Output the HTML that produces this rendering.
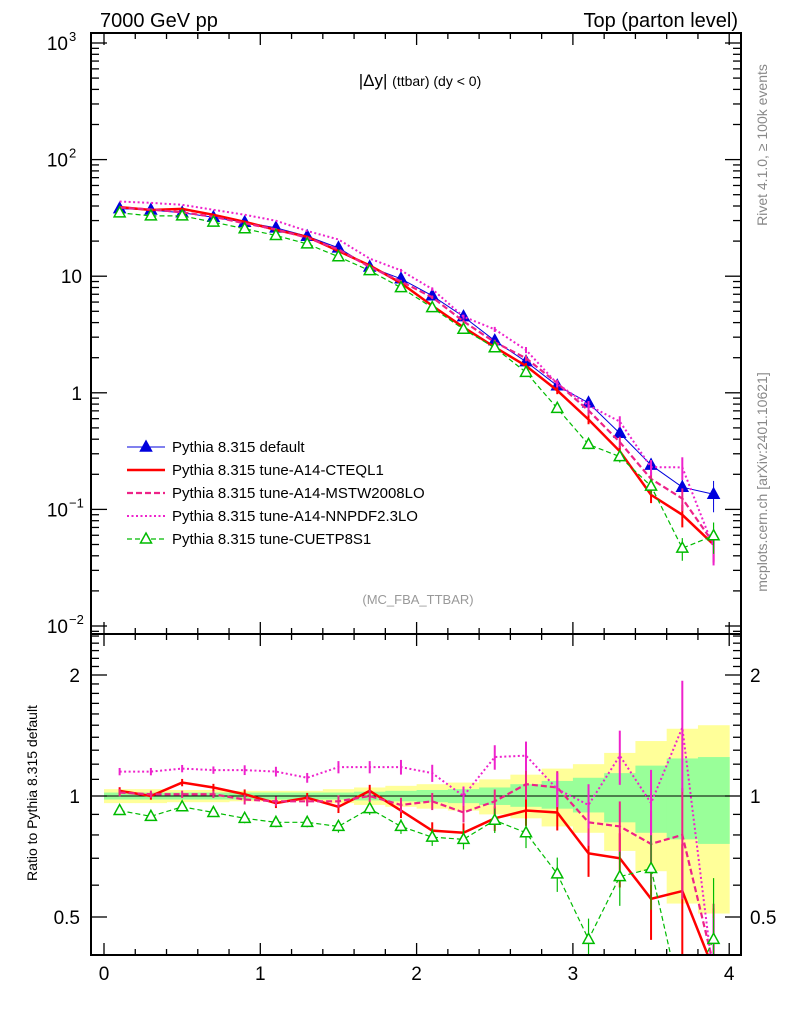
<!DOCTYPE html>
<html><head><meta charset="utf-8"><style>
body{margin:0;background:#fff;}
svg{display:block;font-family:"Liberation Sans",sans-serif;}
</style></head><body>
<svg id="c" width="786" height="1024" viewBox="0 0 786 1024" xmlns="http://www.w3.org/2000/svg">
<text x="100" y="27" font-size="20">7000 GeV pp</text>
<text x="738" y="27" font-size="20" text-anchor="end">Top (parton level)</text>
<text x="420" y="86" font-size="17" text-anchor="middle">|Δy| <tspan font-size="14">(ttbar) (dy &lt; 0)</tspan></text>
<text x="418" y="604" font-size="13" fill="#999" text-anchor="middle">(MC_FBA_TTBAR)</text>
<text transform="translate(767,145) rotate(-90)" font-size="14" fill="#888" text-anchor="middle">Rivet 4.1.0, ≥ 100k events</text>
<text transform="translate(767,482) rotate(-90)" font-size="14" fill="#888" text-anchor="middle">mcplots.cern.ch [arXiv:2401.10621]</text>
<text transform="translate(37,793) rotate(-90)" font-size="14" text-anchor="middle">Ratio to Pythia 8.315 default</text>
<g id="g"></g>
</svg>
<script>
const xs=[0.1,0.3,0.5,0.7,0.9,1.1,1.3,1.5,1.7,1.9,2.1,2.3,2.5,2.7,2.9,3.1,3.3,3.5,3.7,3.9];
const defaultVals=[38,37,35,32,29,26,22,17.5,12,9.5,6.8,4.5,2.8,1.85,1.15,0.82,0.45,0.24,0.155,0.135];
const ratioCTEQ=[1.03,1.0,1.08,1.05,1.01,0.96,0.99,0.94,1.03,0.92,0.82,0.81,0.88,0.92,0.91,0.72,0.70,0.555,0.58,0.37];
const ratioMSTW=[1.02,1.01,1.01,1.01,0.98,0.97,0.97,0.97,1.0,0.95,0.97,0.91,0.97,1.07,1.05,0.86,0.84,0.76,0.80,0.38];
const ratioNNPDF=[1.15,1.15,1.17,1.16,1.16,1.15,1.11,1.18,1.18,1.18,1.14,1.0,1.25,1.26,1.04,0.95,1.26,0.96,1.48,0.35];
const ratioCUET=[0.92,0.89,0.94,0.91,0.88,0.86,0.86,0.84,0.93,0.84,0.79,0.78,0.87,0.81,0.64,0.44,0.63,0.66,0.30,0.44];
const relErr=[0.015,0.015,0.015,0.015,0.02,0.02,0.02,0.025,0.025,0.03,0.035,0.04,0.05,0.06,0.07,0.09,0.11,0.15,0.22,0.3];
const yelHi=[1.04,1.04,1.035,1.035,1.03,1.03,1.03,1.04,1.05,1.06,1.07,1.08,1.10,1.13,1.17,1.2,1.28,1.37,1.47,1.50];
const yelLo=[0.96,0.96,0.965,0.965,0.97,0.97,0.97,0.96,0.95,0.94,0.93,0.92,0.90,0.88,0.84,0.81,0.73,0.65,0.54,0.51];
const grnHi=[1.02,1.02,1.02,1.02,1.02,1.02,1.02,1.02,1.025,1.03,1.035,1.04,1.05,1.07,1.09,1.11,1.14,1.19,1.24,1.25];
const grnLo=[0.98,0.98,0.98,0.98,0.98,0.98,0.98,0.98,0.975,0.97,0.965,0.96,0.95,0.94,0.93,0.91,0.86,0.81,0.78,0.76];
const L=91,R=741,T=33,MB=634,RB=955;
const X=v=>104+v*156.3;
const Y=v=>43+(3-Math.log10(v))*116.6;
const YR=v=>796-Math.log2(v)*121;
const NS="http://www.w3.org/2000/svg";
const g=document.getElementById('g');
function mk(t,a,p){const e=document.createElementNS(NS,t);for(const k in a)e.setAttribute(k,a[k]);(p||g).appendChild(e);return e;}
// clip paths
const defs=mk('defs',{});
const c1=mk('clipPath',{id:'cm'},defs);mk('rect',{x:L,y:T,width:R-L,height:MB-T},c1);
const c2=mk('clipPath',{id:'cr'},defs);mk('rect',{x:L,y:MB,width:R-L,height:RB-MB},c2);
// bands
const bands=mk('g',{'clip-path':'url(#cr)'});


xs.forEach((x,i)=>{
 const r=mk('rect',{x:X(x-0.1),width:156.3*0.2+0.5,y:YR(yelHi[i]),height:YR(yelLo[i])-YR(yelHi[i]),fill:'#ffff99'},bands);
 
 
});
xs.forEach((x,i)=>{
 const r=mk('rect',{x:X(x-0.1),width:156.3*0.2+0.5,y:YR(grnHi[i]),height:YR(grnLo[i])-YR(grnHi[i]),fill:'#99ff99'},bands);
 
 
});
mk('line',{x1:L,x2:R,y1:YR(1),y2:YR(1),stroke:'#000','stroke-width':1});
const series=[
 {n:'default',r:xs.map(()=>1),c:'#0000dd',w:1,d:'',m:'tri'},
 {n:'cteql1',r:ratioCTEQ,c:'#ff0000',w:2.5,d:'',m:''},
 {n:'mstw2008lo',r:ratioMSTW,c:'#ee2288',w:2.2,d:'6,3',m:''},
 {n:'nnpdf23lo',r:ratioNNPDF,c:'#ee22cc',w:2,d:'2,2.5',m:''},
 {n:'cuetp8s1',r:ratioCUET,c:'#00bb00',w:1.2,d:'5,3',m:'otri'}
];
function tri(p,x,y,s,filled){const e=mk('path',{d:`M${x},${y-6}L${x+5.5},${y+4}L${x-5.5},${y+4}Z`,fill:filled?s.c:'#fff',stroke:s.c,'stroke-width':1.5},p);}
series.forEach((s,si)=>{
 const gm=mk('g',{'clip-path':'url(#cm)'});
 
 
 const vals=xs.map((x,i)=>defaultVals[i]*s.r[i]);
 mk('polyline',{points:xs.map((x,i)=>X(x)+','+Y(vals[i])).join(' '),fill:'none',stroke:s.c,'stroke-width':s.w,'stroke-dasharray':s.d},gm);
 xs.forEach((x,i)=>{const e=relErr[i]*vals[i];if(Y(vals[i]-e)-Y(vals[i]+e)>3)mk('line',{x1:X(x),x2:X(x),y1:Y(vals[i]+e),y2:Y(Math.max(vals[i]-e,1e-3)),stroke:s.c,'stroke-width':Math.min(s.w,2)},gm);
  if(s.m)tri(gm,X(x),Y(vals[i]),s,s.m==='tri');});
 if(si===0)return;
 const gr=mk('g',{'clip-path':'url(#cr)'});
 
 
 mk('polyline',{points:xs.map((x,i)=>X(x)+','+YR(s.r[i])).join(' '),fill:'none',stroke:s.c,'stroke-width':s.w,'stroke-dasharray':s.d},gr);
 xs.forEach((x,i)=>{const e=relErr[i]*1.4*s.r[i];mk('line',{x1:X(x),x2:X(x),y1:YR(s.r[i]+e),y2:YR(Math.max(s.r[i]-e,0.2)),stroke:s.c,'stroke-width':Math.min(s.w,2)},gr);
  if(s.m)tri(gr,X(x),YR(s.r[i]),s,false);});
});
// frames
mk('rect',{x:L,y:T,width:R-L,height:MB-T,fill:'none',stroke:'#000','stroke-width':2});
mk('rect',{x:L,y:MB,width:R-L,height:RB-MB,fill:'none',stroke:'#000','stroke-width':2});
// x ticks
for(let k=0;k<=20;k++){const v=k*0.2,px=X(v),big=k%5===0,l=big?12:6;
 [[T,1],[MB,-1],[MB,1],[RB,-1]].forEach(([y,d])=>mk('line',{x1:px,x2:px,y1:y,y2:y+d*l,stroke:'#000','stroke-width':1.3}));
 if(big){const t=mk('text',{x:px,y:980,'font-size':19,'text-anchor':'middle'});t.textContent=v;}}
// main y ticks
for(let e=-3;e<=3;e++)for(let m=1;m<10;m++){const v=m*Math.pow(10,e),py=Y(v);if(py<T||py>MB)continue;const l=m===1?16:8;
 mk('line',{x1:L,x2:L+l,y1:py,y2:py,stroke:'#000','stroke-width':1.3});mk('line',{x1:R,x2:R-l,y1:py,y2:py,stroke:'#000','stroke-width':1.3});}
const ylab=[[3,'10','3'],[2,'10','2'],[1,'10',''],[0,'1',''],[-1,'10','−1'],[-2,'10','−2']];
ylab.forEach(([e,b,s])=>{const t=mk('text',{x:s?68:82,y:Y(Math.pow(10,e))+7,'font-size':19,'text-anchor':'end'});t.textContent=b;
 if(s){const u=mk('text',{x:69,y:Y(Math.pow(10,e))-2,'font-size':13});u.textContent=s;}});
// ratio y ticks
[0.4,0.5,0.6,0.7,0.8,0.9,1,1.1,1.2,1.3,1.4,1.5,1.6,1.7,1.8,1.9,2,2.1,2.2,2.3,2.4,2.5].forEach(v=>{const py=YR(v);if(py<MB||py>RB)return;const l=(v===0.5||v===1||v===2)?16:8;
 mk('line',{x1:L,x2:L+l,y1:py,y2:py,stroke:'#000','stroke-width':1.3});mk('line',{x1:R,x2:R-l,y1:py,y2:py,stroke:'#000','stroke-width':1.3});});
[[2,'2'],[1,'1'],[0.5,'0.5']].forEach(([v,s])=>{const t=mk('text',{x:80,y:YR(v)+7,'font-size':19,'text-anchor':'end'});t.textContent=s;
 const t2=mk('text',{x:750,y:YR(v)+7,'font-size':19});t2.textContent=s;});
// legend
const names=['Pythia 8.315 default','Pythia 8.315 tune-A14-CTEQL1','Pythia 8.315 tune-A14-MSTW2008LO','Pythia 8.315 tune-A14-NNPDF2.3LO','Pythia 8.315 tune-CUETP8S1'];
series.forEach((s,i)=>{const y=447+i*23;const lg=mk('g',{});
 
 
 mk('line',{x1:127,x2:165,y1:y,y2:y,stroke:s.c,'stroke-width':s.w,'stroke-dasharray':s.d},lg);
 if(s.m)tri(lg,146,y,s,s.m==='tri');
 const t=mk('text',{x:172,y:y+5,'font-size':15},lg);t.textContent=names[i];});
</script>
</body></html>
